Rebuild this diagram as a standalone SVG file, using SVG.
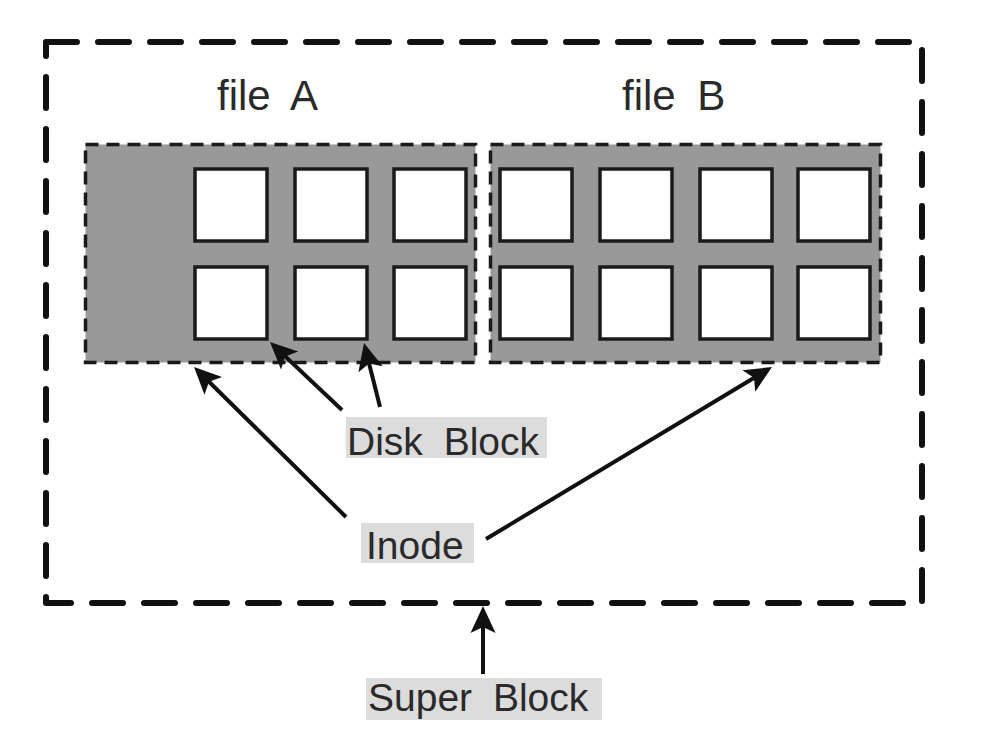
<svg xmlns="http://www.w3.org/2000/svg" width="1002" height="746" viewBox="0 0 1002 746">
<style>
.outer{fill:none;stroke:#111;stroke-width:6;stroke-dasharray:31 21;stroke-linecap:round;stroke-linejoin:round}
.file{fill:#999;stroke:#1a1a1a;stroke-width:3.5;stroke-dasharray:13 8}
.blk{fill:#fefefe;stroke:#1a1a1a;stroke-width:3.5}
.lbl{font-family:"Liberation Sans",Arial,sans-serif;font-size:39px;fill:#2a2a2a;word-spacing:10px}
.ttl{font-family:"Liberation Sans",Arial,sans-serif;font-size:42px;fill:#2a2a2a;word-spacing:10px}
.bg{fill:#dcdcdc}
.arr{stroke:#111;stroke-width:4;fill:none;marker-end:url(#ah)}
</style>
<defs>
<marker id="ah" markerUnits="userSpaceOnUse" viewBox="-25 -14 32 28" refX="0" refY="0" markerWidth="32" markerHeight="28" orient="auto">
<path d="M5,0 L-22,-12.5 L-16,0 L-22,12.5 Z" fill="#111"/>
</marker>
</defs>
<rect width="1002" height="746" fill="#ffffff"/>
<g id="super-block">
<rect class="outer" x="46" y="42" width="876" height="561"/>
</g>
<g id="file-a">
<text class="ttl" x="217" y="110">file A</text>
<rect class="file" x="85.5" y="144.5" width="390" height="218"/>
<rect class="blk" x="195" y="169" width="72" height="72"/>
<rect class="blk" x="295" y="169" width="72" height="72"/>
<rect class="blk" x="394" y="169" width="72" height="72"/>
<rect class="blk" x="195" y="267" width="72" height="72"/>
<rect class="blk" x="295" y="267" width="72" height="72"/>
<rect class="blk" x="394" y="267" width="72" height="72"/>
</g>
<g id="file-b">
<text class="ttl" x="622" y="110">file B</text>
<rect class="file" x="490.5" y="144.5" width="390" height="218"/>
<rect class="blk" x="500" y="169" width="72" height="72"/>
<rect class="blk" x="600" y="169" width="72" height="72"/>
<rect class="blk" x="700" y="169" width="72" height="72"/>
<rect class="blk" x="798" y="169" width="72" height="72"/>
<rect class="blk" x="500" y="267" width="72" height="72"/>
<rect class="blk" x="600" y="267" width="72" height="72"/>
<rect class="blk" x="700" y="267" width="72" height="72"/>
<rect class="blk" x="798" y="267" width="72" height="72"/>
</g>
<g id="label-disk-block">
<rect class="bg" x="346" y="417" width="201" height="41"/>
<text class="lbl" x="347" y="455">Disk Block</text>
</g>
<g id="label-inode">
<rect class="bg" x="361" y="523" width="113" height="40"/>
<text class="lbl" x="366" y="559">Inode</text>
</g>
<g id="label-super-block">
<rect class="bg" x="366" y="678" width="236" height="42"/>
<text class="lbl" x="368" y="711">Super Block</text>
</g>
<g id="connectors">
<line class="arr" x1="342" y1="410" x2="273.6" y2="345.4"/>
<line class="arr" x1="380" y1="407" x2="365.2" y2="347.9"/>
<line class="arr" x1="346" y1="517" x2="197.6" y2="370.5"/>
<line class="arr" x1="486" y1="539" x2="767.7" y2="369.6"/>
<line class="arr" x1="483" y1="674" x2="483" y2="611"/>
</g>
</svg>
